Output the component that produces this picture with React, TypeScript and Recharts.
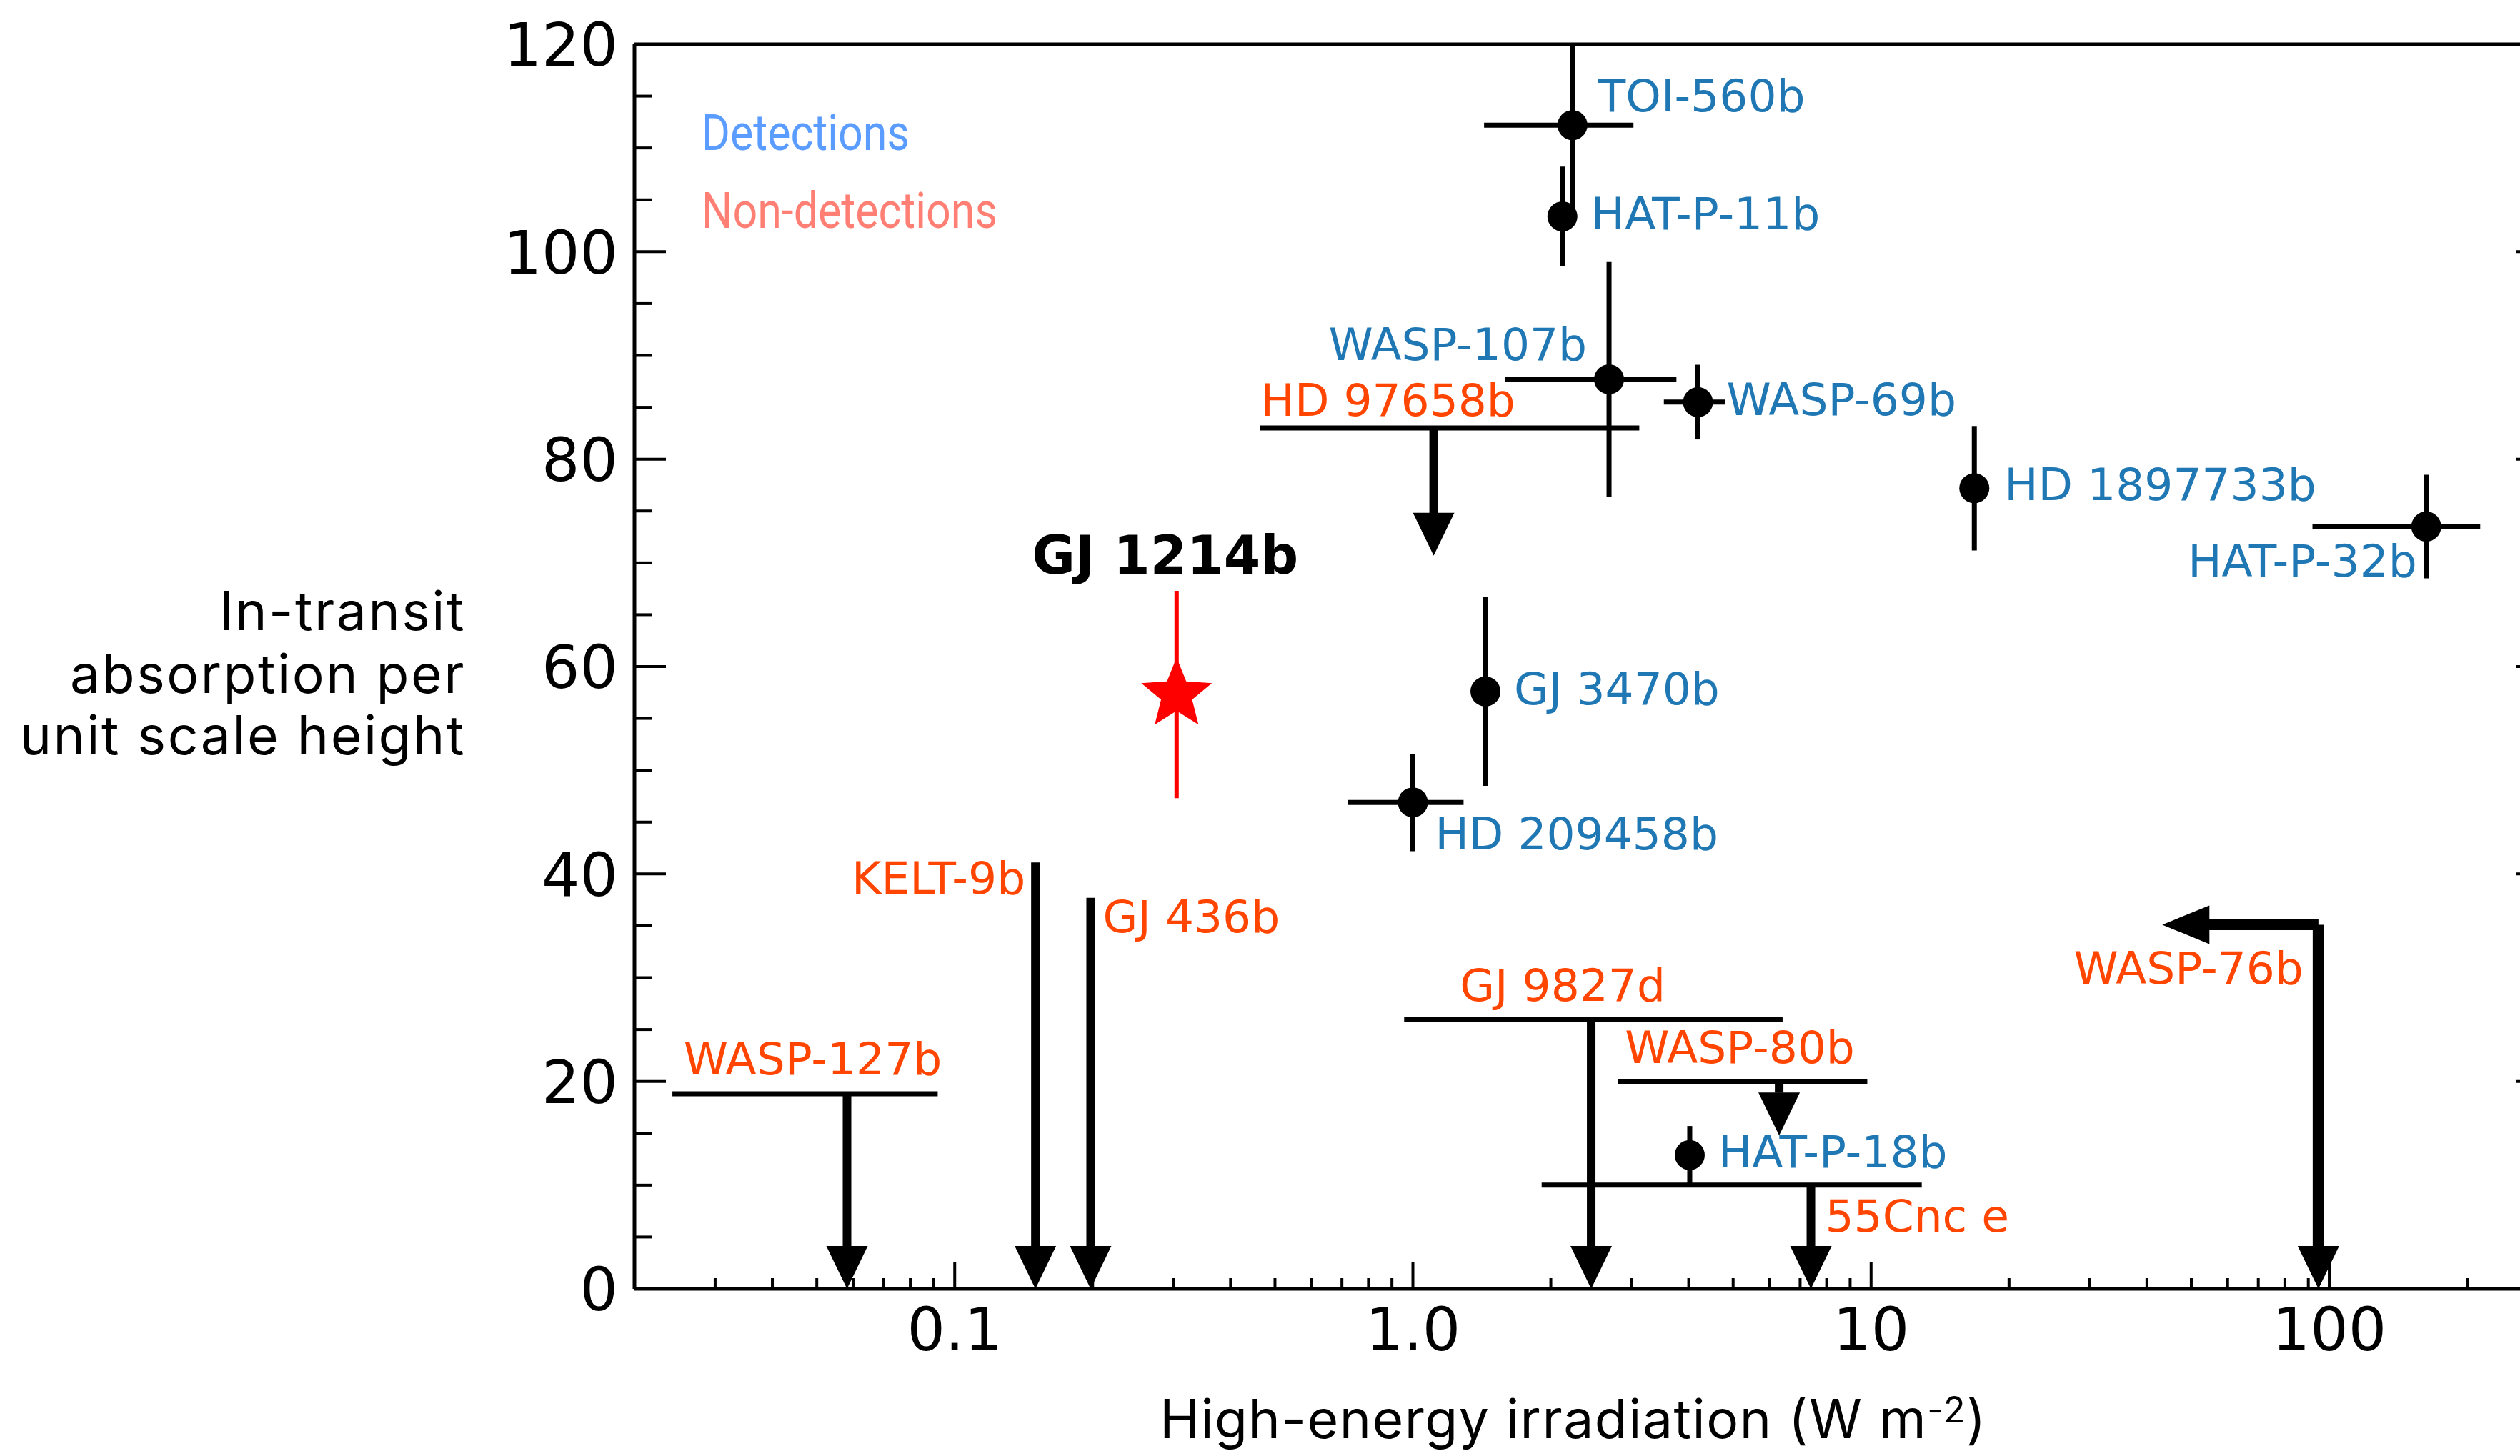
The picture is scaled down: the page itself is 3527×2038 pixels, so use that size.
import { ComposedChart, XAxis, YAxis, Scatter, ReferenceLine, Legend } from "recharts"

// axis ticks
const xMajorTicks = [0.1, 1, 10, 100]
const xTickLabels = ["0.1", "1.0", "10", "100"]
const xMinorTicks = [
  0.03, 0.04, 0.05, 0.06, 0.07, 0.08, 0.09,
  0.2, 0.3, 0.4, 0.5, 0.6, 0.7, 0.8, 0.9,
  2, 3, 4, 5, 6, 7, 8, 9,
  20, 30, 40, 50, 60, 70, 80, 90, 200,
]
const yMajorTicks = [0, 20, 40, 60, 80, 100, 120]
const yMinorTicks = [5, 10, 15, 25, 30, 35, 45, 50, 55, 65, 70, 75, 85, 90, 95, 105, 110, 115]

// detections (point + error bars)
const detNames = ["TOI-560b", "HAT-P-11b", "WASP-107b", "WASP-69b", "HD 1897733b", "HAT-P-32b", "GJ 3470b", "HD 209458b", "HAT-P-18b"]
const detX = [2.23, 2.12, 2.68, 4.19, 16.8, 162.8, 1.44, 1.0, 4.02]
const detY = [112.2, 103.4, 87.7, 85.5, 77.2, 73.5, 57.6, 46.9, 12.9]
const detYErr = [8.2, 4.8, 11.3, 3.6, 6.0, 5.0, 9.1, 4.7, 2.8]
const detXLow = [1.43, null, 1.59, 3.53, null, 91.9, null, 0.72, null]
const detXHigh = [3.03, null, 3.76, 4.8, null, 213.5, null, 1.29, null]

// GJ 1214b (this work)
const gjName = "GJ 1214b"
const gjX = 0.305
const gjY = 57.3
const gjYErr = 10

// non-detections (upper limits)
const limNames = ["HD 97658b", "KELT-9b", "GJ 436b", "WASP-127b", "GJ 9827d", "WASP-80b", "55Cnc e", "WASP-76b"]
const limX = [1.11, 0.15, 0.198, 0.0582, 2.45, 6.3, 7.39, 94.7]
const limY = [83.0, 41.1, 37.7, 18.8, 26.0, 20.0, 10.0, 35.1]
const limYTip = [70.7, 0, 0, 0, 0, 14.8, 0, 0]
const limXLow = [0.463, null, null, 0.0242, 0.957, 2.8, 1.91, null]
const limXHigh = [3.12, null, null, 0.0918, 6.41, 9.81, 12.9, null]
const limXTip = [null, null, null, null, null, null, null, 43.2]

const BLUE = "#1f77b4"
const ORANGE = "#ff4500"
const HEAD_LEN = 4.1 // arrow head length, y units
const HEAD_XFAC = 1.25 // arrow head length on the log x axis

// label offsets (px) from the point each label belongs to
const labelPlacement: Record<string, { dx: number; dy: number; anchor: string }> = {
  "TOI-560b": { dx: 36, dy: -19, anchor: "start" },
  "HAT-P-11b": { dx: 40, dy: 18, anchor: "start" },
  "WASP-107b": { dx: -31, dy: -27, anchor: "end" },
  "WASP-69b": { dx: 40, dy: 18, anchor: "start" },
  "HD 1897733b": { dx: 42, dy: 17, anchor: "start" },
  "HAT-P-32b": { dx: -13, dy: 70, anchor: "end" },
  "GJ 3470b": { dx: 40, dy: 18, anchor: "start" },
  "HD 209458b": { dx: 31, dy: 66, anchor: "start" },
  "HAT-P-18b": { dx: 40, dy: 17, anchor: "start" },
  "GJ 1214b": { dx: -16, dy: -169, anchor: "middle" },
  "HD 97658b": { dx: -242, dy: -17, anchor: "start" },
  "KELT-9b": { dx: -14, dy: 44, anchor: "end" },
  "GJ 436b": { dx: 17, dy: 48, anchor: "start" },
  "WASP-127b": { dx: -48, dy: -27, anchor: "middle" },
  "GJ 9827d": { dx: -40, dy: -26, anchor: "middle" },
  "WASP-80b": { dx: -55, dy: -26, anchor: "middle" },
  "55Cnc e": { dx: 20, dy: 65, anchor: "start" },
  "WASP-76b": { dx: -21, dy: 83, anchor: "end" },
}

const detPoints = detNames.map((name, i) => ({ name, x: detX[i], y: detY[i] }))
const gjPoints = [{ name: gjName, x: gjX, y: gjY }]
const downTips = limNames.map((name, i) => ({ name, x: limX[i], y: limYTip[i] }))
const leftTips = limNames
  .map((name, i) => ({ name, x: limXTip[i], y: limY[i] }))
  .filter((d) => d.x !== null)
const labelPoints = [
  ...detPoints.map((d) => ({ ...d, color: BLUE, bold: false })),
  { name: gjName, x: gjX, y: gjY, color: "#000", bold: true },
  ...limNames.map((name, i) => ({ name, x: limX[i], y: limY[i], color: ORANGE, bold: false })),
]

type Seg = { a: { x: number; y: number }; b: { x: number; y: number }; w: number; c: string }
const segments: Seg[] = []
detNames.forEach((_, i) => {
  segments.push({ a: { x: detX[i], y: detY[i] - detYErr[i] }, b: { x: detX[i], y: detY[i] + detYErr[i] }, w: 7, c: "#000" })
  if (detXLow[i] !== null) {
    segments.push({ a: { x: detXLow[i] as number, y: detY[i] }, b: { x: detXHigh[i] as number, y: detY[i] }, w: 7, c: "#000" })
  }
})
segments.push({ a: { x: gjX, y: gjY - gjYErr }, b: { x: gjX, y: gjY + gjYErr }, w: 6, c: "#ff0000" })
limNames.forEach((_, i) => {
  const shaft = limXTip[i] !== null ? 16 : 12
  if (limXLow[i] !== null) {
    segments.push({ a: { x: limXLow[i] as number, y: limY[i] }, b: { x: limXHigh[i] as number, y: limY[i] }, w: 7, c: "#000" })
  }
  segments.push({ a: { x: limX[i], y: limY[i] }, b: { x: limX[i], y: limYTip[i] + HEAD_LEN }, w: shaft, c: "#000" })
  if (limXTip[i] !== null) {
    segments.push({ a: { x: limX[i], y: limY[i] }, b: { x: (limXTip[i] as number) * HEAD_XFAC, y: limY[i] }, w: 15, c: "#000" })
  }
})

const TICK_FONT = "'DejaVu Sans', sans-serif"
const X_DOMAIN = [0.02, 300]

const BottomTick = (p: any) => {
  const { x, y, payload } = p
  const i = xMajorTicks.indexOf(payload.value)
  return (
    <g>
      <line x1={x} x2={x} y1={y} y2={y - (i >= 0 ? 37 : 15)} stroke="#000" strokeWidth={4} />
      {i >= 0 && (
        <text x={x} y={y + 86} textAnchor="middle" fontFamily={TICK_FONT} fontSize={84} fill="#000">
          {xTickLabels[i]}
        </text>
      )}
    </g>
  )
}

const TopTick = (p: any) => {
  const { x, y, payload } = p
  const major = xMajorTicks.includes(payload.value)
  return <line x1={x} x2={x} y1={y} y2={y + (major ? 37 : 15)} stroke="#000" strokeWidth={4} />
}

const LeftTick = (p: any) => {
  const { x, y, payload } = p
  const major = yMajorTicks.includes(payload.value)
  return (
    <g>
      <line x1={x} x2={x + (major ? 44 : 24)} y1={y} y2={y} stroke="#000" strokeWidth={4} />
      {major && (
        <text x={x - 23} y={y} dy="0.36em" textAnchor="end" fontFamily={TICK_FONT} fontSize={84} fill="#000">
          {payload.value}
        </text>
      )}
    </g>
  )
}

const RightTick = (p: any) => {
  const { x, y, payload } = p
  const major = yMajorTicks.includes(payload.value)
  return <line x1={x} x2={x - (major ? 44 : 24)} y1={y} y2={y} stroke="#000" strokeWidth={4} />
}

const YTitle = () => (
  <text textAnchor="end" fontFamily="Inter, sans-serif" fontSize={75} fill="#000" letterSpacing={2.5}>
    <tspan x={652} y={882}>In-transit</tspan>
    <tspan x={652} y={970}>absorption per</tspan>
    <tspan x={652} y={1056}>unit scale height</tspan>
  </text>
)

const XTitle = () => (
  <text x={2202} y={2013} textAnchor="middle" fontFamily="Inter, sans-serif" fontSize={75} fill="#000" letterSpacing={1.5}>
    High-energy irradiation (W m
    <tspan dy={-22} fontSize={50}>-2</tspan>
    <tspan dy={22}>)</tspan>
  </text>
)

const LegendBox = () => (
  <div style={{ fontFamily: "Roboto, sans-serif", fontSize: 70, lineHeight: "109px", whiteSpace: "nowrap" }}>
    <div style={{ color: "#5a9cff", transform: "scaleX(0.87)", transformOrigin: "left" }}>Detections</div>
    <div style={{ color: "#ff7f74", transform: "scaleX(0.87)", transformOrigin: "left" }}>Non-detections</div>
  </div>
)

const Dot = (p: any) => <circle cx={p.cx} cy={p.cy} r={21} fill="#000" />

const Star = (p: any) => {
  const { cx, cy } = p
  const R = 52
  const r = R * 0.44
  const pts: string[] = []
  for (let k = 0; k < 10; k++) {
    const ang = -Math.PI / 2 + (k * Math.PI) / 5
    const rad = k % 2 === 0 ? R : r
    pts.push(`${cx + rad * Math.cos(ang)},${cy + rad * Math.sin(ang)}`)
  }
  return <polygon points={pts.join(" ")} fill="#ff0000" />
}

const DownHead = (p: any) => {
  const { cx, cy } = p
  return <polygon points={`${cx},${cy} ${cx - 29},${cy - 60} ${cx + 29},${cy - 60}`} fill="#000" />
}

const LeftHead = (p: any) => {
  const { cx, cy } = p
  return <polygon points={`${cx},${cy} ${cx + 66},${cy - 27} ${cx + 66},${cy + 27}`} fill="#000" />
}

const NameLabel = (p: any) => {
  const { cx, cy, payload } = p
  const pl = labelPlacement[payload.name]
  return (
    <text
      x={cx + pl.dx}
      y={cy + pl.dy}
      textAnchor={pl.anchor}
      fontFamily={TICK_FONT}
      fontSize={payload.bold ? 74 : 63}
      fontWeight={payload.bold ? "bold" : "normal"}
      fill={payload.color}
    >
      {payload.name}
    </text>
  )
}

export default function App() {
  // the plot runs a little past the right edge of the picture, like the original figure
  return (
    <div style={{ position: "absolute", left: 0, top: 0, width: 3527, height: 2038, overflow: "hidden", background: "#fff" }}>
      <ComposedChart width={3567} height={2038} margin={{ top: 0, right: 0, bottom: 0, left: 0 }}>
        <XAxis
          xAxisId="b"
          dataKey="x"
          type="number"
          scale="log"
          domain={X_DOMAIN}
          allowDataOverflow
          ticks={[...xMajorTicks, ...xMinorTicks]}
          interval={0}
          tickSize={0}
          tickMargin={0}
          tickLine={false}
          tick={(p: any) => <BottomTick {...p} />}
          height={234}
          axisLine={{ stroke: "#000", strokeWidth: 5 }}
          label={<XTitle />}
        />
        <XAxis
          xAxisId="t"
          orientation="top"
          type="number"
          scale="log"
          domain={X_DOMAIN}
          allowDataOverflow
          ticks={[...xMajorTicks, ...xMinorTicks]}
          interval={0}
          tickSize={0}
          tickMargin={0}
          tickLine={false}
          tick={(p: any) => <TopTick {...p} />}
          height={62}
          axisLine={{ stroke: "#000", strokeWidth: 5 }}
        />
        <YAxis
          yAxisId="l"
          type="number"
          domain={[0, 120]}
          allowDataOverflow
          ticks={[...yMajorTicks, ...yMinorTicks]}
          interval={0}
          tickSize={0}
          tickMargin={0}
          tickLine={false}
          tick={(p: any) => <LeftTick {...p} />}
          width={888}
          axisLine={{ stroke: "#000", strokeWidth: 5 }}
          label={<YTitle />}
        />
        <YAxis
          yAxisId="r"
          orientation="right"
          type="number"
          domain={[0, 120]}
          allowDataOverflow
          ticks={[...yMajorTicks, ...yMinorTicks]}
          interval={0}
          tickSize={0}
          tickMargin={0}
          tickLine={false}
          tick={(p: any) => <RightTick {...p} />}
          width={1}
          axisLine={{ stroke: "#000", strokeWidth: 5 }}
        />
        <Legend
          layout="vertical"
          align="center"
          verticalAlign="middle"
          content={<LegendBox />}
          wrapperStyle={{ left: 982, top: 132, width: 800, height: 230 }}
        />
        {segments.map((s, i) => (
          <ReferenceLine
            key={`seg-${i}`}
            xAxisId="b"
            yAxisId="l"
            segment={[s.a, s.b]}
            stroke={s.c}
            strokeWidth={s.w}
            ifOverflow="hidden"
          />
        ))}
        <Scatter xAxisId="b" yAxisId="l" data={detPoints} dataKey="y" shape={Dot} isAnimationActive={false} />
        <Scatter xAxisId="b" yAxisId="l" data={gjPoints} dataKey="y" shape={Star} isAnimationActive={false} />
        <Scatter xAxisId="b" yAxisId="l" data={downTips} dataKey="y" shape={DownHead} isAnimationActive={false} />
        <Scatter xAxisId="b" yAxisId="l" data={leftTips} dataKey="y" shape={LeftHead} isAnimationActive={false} />
        <Scatter xAxisId="b" yAxisId="l" data={labelPoints} dataKey="y" shape={NameLabel} isAnimationActive={false} />
      </ComposedChart>
    </div>
  )
}
